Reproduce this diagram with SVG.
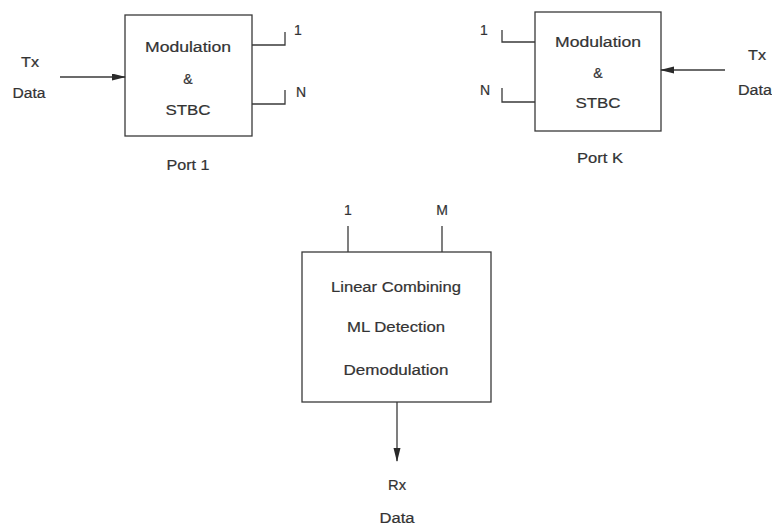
<svg xmlns="http://www.w3.org/2000/svg" width="772" height="529" viewBox="0 0 772 529">
<style>
text{font-family:"Liberation Sans",Arial,sans-serif;font-size:14px;fill:#333;stroke:#333;stroke-width:0.2;text-anchor:middle}
.box{fill:#fff;stroke:#3a3a3a;stroke-width:1.3}
.ln{fill:none;stroke:#3a3a3a;stroke-width:1.3}
</style>
<defs>
<marker id="ah" markerWidth="14" markerHeight="8" refX="13" refY="3.5" orient="auto" markerUnits="userSpaceOnUse">
<path d="M0,0 L14,3.5 L0,7 Z" fill="#2a2a2a"/>
</marker>
</defs>
<rect width="772" height="529" fill="#fff"/>
<g id="port1">
<rect class="box" x="125" y="15" width="127" height="121"/>
<text x="188" y="52" textLength="86" lengthAdjust="spacingAndGlyphs">Modulation</text>
<text x="188" y="84">&amp;</text>
<text x="188" y="115" textLength="45" lengthAdjust="spacingAndGlyphs">STBC</text>
<text x="188" y="170" textLength="43" lengthAdjust="spacingAndGlyphs">Port 1</text>
<text x="30" y="67" textLength="18" lengthAdjust="spacingAndGlyphs">Tx</text>
<text x="29" y="98" textLength="33" lengthAdjust="spacingAndGlyphs">Data</text>
<text x="298" y="35">1</text>
<text x="301" y="97">N</text>
</g>
<g id="portK">
<rect class="box" x="535" y="12" width="126" height="119"/>
<text x="598" y="47" textLength="86" lengthAdjust="spacingAndGlyphs">Modulation</text>
<text x="598" y="78">&amp;</text>
<text x="598" y="108" textLength="45" lengthAdjust="spacingAndGlyphs">STBC</text>
<text x="600" y="163" textLength="46" lengthAdjust="spacingAndGlyphs">Port K</text>
<text x="757" y="60" textLength="18" lengthAdjust="spacingAndGlyphs">Tx</text>
<text x="738" y="95" style="text-anchor:start" textLength="34" lengthAdjust="spacingAndGlyphs">Data</text>
<text x="484" y="35">1</text>
<text x="485" y="95">N</text>
</g>
<g id="receiver">
<rect class="box" x="302" y="252" width="189" height="150"/>
<text x="396" y="292" textLength="130" lengthAdjust="spacingAndGlyphs">Linear Combining</text>
<text x="396" y="332" textLength="98" lengthAdjust="spacingAndGlyphs">ML Detection</text>
<text x="396" y="375" textLength="105" lengthAdjust="spacingAndGlyphs">Demodulation</text>
<text x="348" y="215">1</text>
<text x="442" y="215">M</text>
<text x="397" y="490" textLength="18" lengthAdjust="spacingAndGlyphs">Rx</text>
<text x="397" y="523" textLength="35" lengthAdjust="spacingAndGlyphs">Data</text>
</g>
<g id="connectors">
<line class="ln" x1="60" y1="77" x2="125" y2="77" marker-end="url(#ah)"/>
<polyline class="ln" points="252,45 285,45 285,32"/>
<polyline class="ln" points="252,104 285,104 285,90"/>
<line class="ln" x1="725" y1="70" x2="661" y2="70" marker-end="url(#ah)"/>
<polyline class="ln" points="535,42 502,42 502,30"/>
<polyline class="ln" points="535,102 502,102 502,88"/>
<line class="ln" x1="348" y1="226" x2="348" y2="252"/>
<line class="ln" x1="442" y1="226" x2="442" y2="252"/>
<line class="ln" x1="397" y1="402" x2="397" y2="461" marker-end="url(#ah)"/>
</g>
</svg>
